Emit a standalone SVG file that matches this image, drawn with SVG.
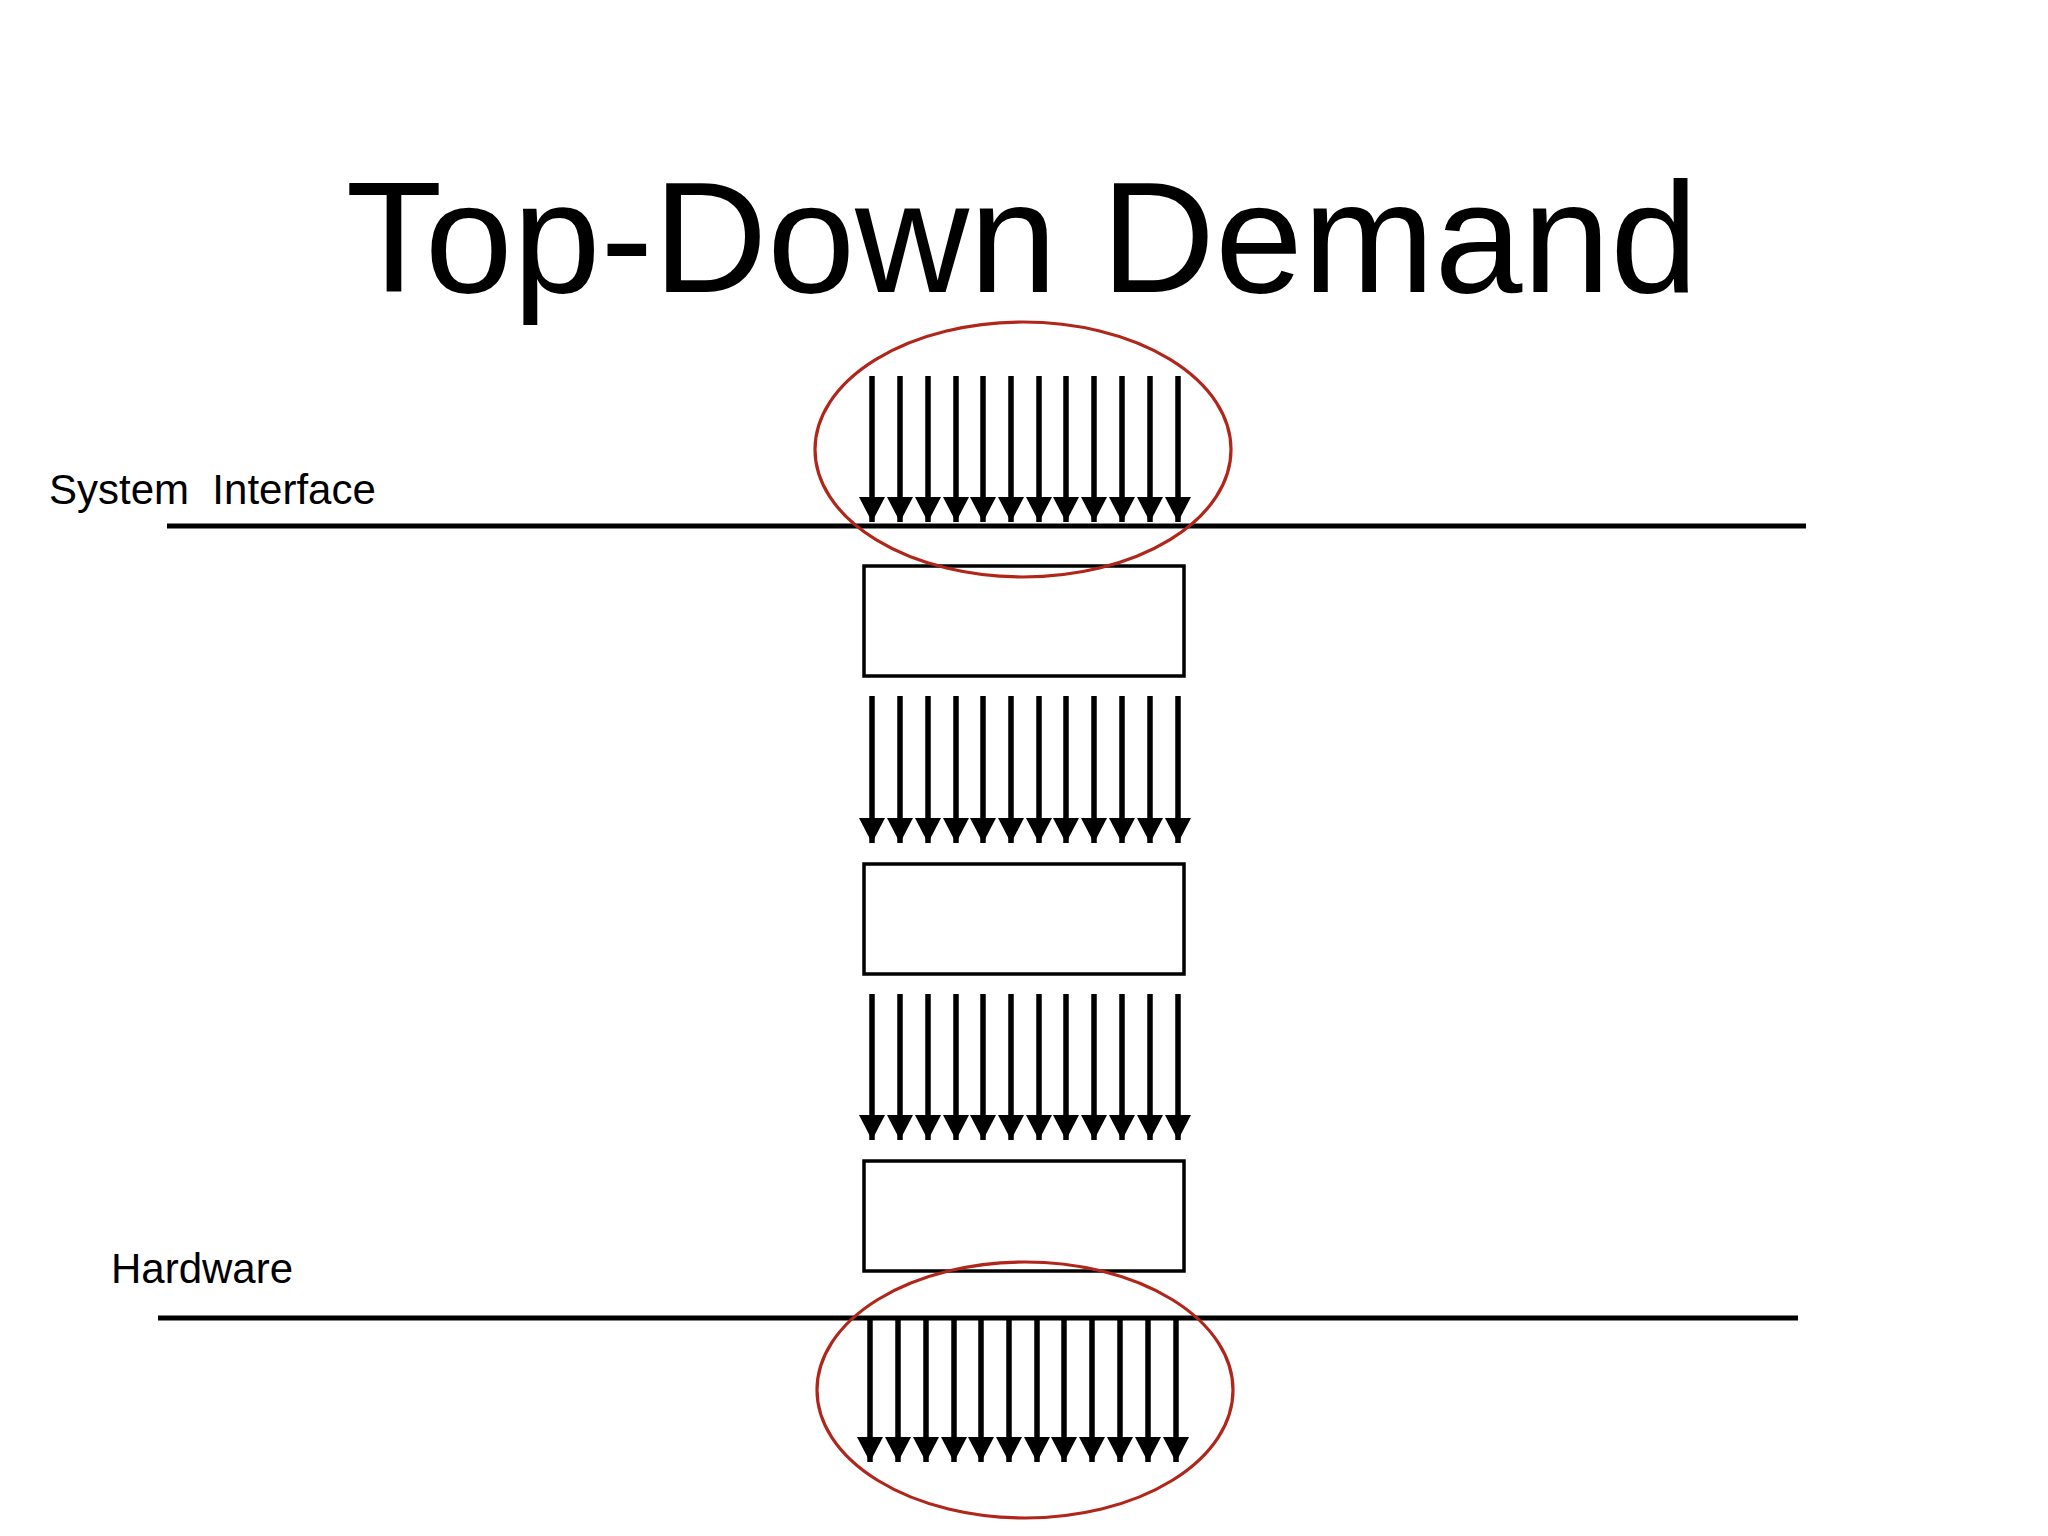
<svg xmlns="http://www.w3.org/2000/svg" width="2048" height="1536" viewBox="0 0 2048 1536">
<style>
.title{font-family:"Liberation Sans",Arial,sans-serif;font-size:158px;fill:#000}
.lbl{font-family:"Liberation Sans",Arial,sans-serif;font-size:42px;fill:#000}
.box{fill:#fff;stroke:#000;stroke-width:3.5}
.rule{stroke:#000;stroke-width:5}
.arr{stroke:#000;stroke-width:5.5;marker-end:url(#ah)}
.ring{fill:none;stroke:#B0261A;stroke-width:3.2}
</style>
<defs>
<marker id="ah" markerUnits="userSpaceOnUse" viewBox="0 0 25 26" markerWidth="25" markerHeight="26" refX="25" refY="13" orient="auto">
<path d="M0,0 L25,13 L0,26 Z" fill="#000"/>
</marker>
</defs>
<rect width="2048" height="1536" fill="#fff"/>
<text class="title" x="1022" y="292" text-anchor="middle">Top-Down Demand</text>
<g id="system-interface">
<text class="lbl" x="49" y="504" xml:space="preserve">System  Interface</text>
<line class="rule" x1="167" y1="526" x2="1806" y2="526"/>
</g>
<g id="hardware">
<text class="lbl" x="111" y="1283">Hardware</text>
<line class="rule" x1="158" y1="1318" x2="1798" y2="1318"/>
</g>
<g id="box1"><rect class="box" x="864" y="566" width="320" height="110"/></g>
<g id="box2"><rect class="box" x="864" y="864" width="320" height="110"/></g>
<g id="box3"><rect class="box" x="864" y="1161" width="320" height="110"/></g>
<g id="connectors">
<g id="arrows1">
<line class="arr" x1="872" y1="376" x2="872" y2="522"/>
<line class="arr" x1="900" y1="376" x2="900" y2="522"/>
<line class="arr" x1="928" y1="376" x2="928" y2="522"/>
<line class="arr" x1="956" y1="376" x2="956" y2="522"/>
<line class="arr" x1="983" y1="376" x2="983" y2="522"/>
<line class="arr" x1="1011" y1="376" x2="1011" y2="522"/>
<line class="arr" x1="1039" y1="376" x2="1039" y2="522"/>
<line class="arr" x1="1066" y1="376" x2="1066" y2="522"/>
<line class="arr" x1="1094" y1="376" x2="1094" y2="522"/>
<line class="arr" x1="1122" y1="376" x2="1122" y2="522"/>
<line class="arr" x1="1150" y1="376" x2="1150" y2="522"/>
<line class="arr" x1="1178" y1="376" x2="1178" y2="522"/>
</g>
<g id="arrows2">
<line class="arr" x1="872" y1="696" x2="872" y2="843"/>
<line class="arr" x1="900" y1="696" x2="900" y2="843"/>
<line class="arr" x1="928" y1="696" x2="928" y2="843"/>
<line class="arr" x1="956" y1="696" x2="956" y2="843"/>
<line class="arr" x1="983" y1="696" x2="983" y2="843"/>
<line class="arr" x1="1011" y1="696" x2="1011" y2="843"/>
<line class="arr" x1="1039" y1="696" x2="1039" y2="843"/>
<line class="arr" x1="1066" y1="696" x2="1066" y2="843"/>
<line class="arr" x1="1094" y1="696" x2="1094" y2="843"/>
<line class="arr" x1="1122" y1="696" x2="1122" y2="843"/>
<line class="arr" x1="1150" y1="696" x2="1150" y2="843"/>
<line class="arr" x1="1178" y1="696" x2="1178" y2="843"/>
</g>
<g id="arrows3">
<line class="arr" x1="872" y1="994" x2="872" y2="1140"/>
<line class="arr" x1="900" y1="994" x2="900" y2="1140"/>
<line class="arr" x1="928" y1="994" x2="928" y2="1140"/>
<line class="arr" x1="956" y1="994" x2="956" y2="1140"/>
<line class="arr" x1="983" y1="994" x2="983" y2="1140"/>
<line class="arr" x1="1011" y1="994" x2="1011" y2="1140"/>
<line class="arr" x1="1039" y1="994" x2="1039" y2="1140"/>
<line class="arr" x1="1066" y1="994" x2="1066" y2="1140"/>
<line class="arr" x1="1094" y1="994" x2="1094" y2="1140"/>
<line class="arr" x1="1122" y1="994" x2="1122" y2="1140"/>
<line class="arr" x1="1150" y1="994" x2="1150" y2="1140"/>
<line class="arr" x1="1178" y1="994" x2="1178" y2="1140"/>
</g>
<g id="arrows4">
<line class="arr" x1="870" y1="1318" x2="870" y2="1462"/>
<line class="arr" x1="898" y1="1318" x2="898" y2="1462"/>
<line class="arr" x1="926" y1="1318" x2="926" y2="1462"/>
<line class="arr" x1="954" y1="1318" x2="954" y2="1462"/>
<line class="arr" x1="981" y1="1318" x2="981" y2="1462"/>
<line class="arr" x1="1009" y1="1318" x2="1009" y2="1462"/>
<line class="arr" x1="1037" y1="1318" x2="1037" y2="1462"/>
<line class="arr" x1="1064" y1="1318" x2="1064" y2="1462"/>
<line class="arr" x1="1092" y1="1318" x2="1092" y2="1462"/>
<line class="arr" x1="1120" y1="1318" x2="1120" y2="1462"/>
<line class="arr" x1="1148" y1="1318" x2="1148" y2="1462"/>
<line class="arr" x1="1176" y1="1318" x2="1176" y2="1462"/>
</g>
</g>
<g id="highlight-top"><ellipse class="ring" cx="1023" cy="449.5" rx="208" ry="127.5"/></g>
<g id="highlight-bottom"><ellipse class="ring" cx="1025" cy="1390" rx="208" ry="128"/></g>
</svg>
